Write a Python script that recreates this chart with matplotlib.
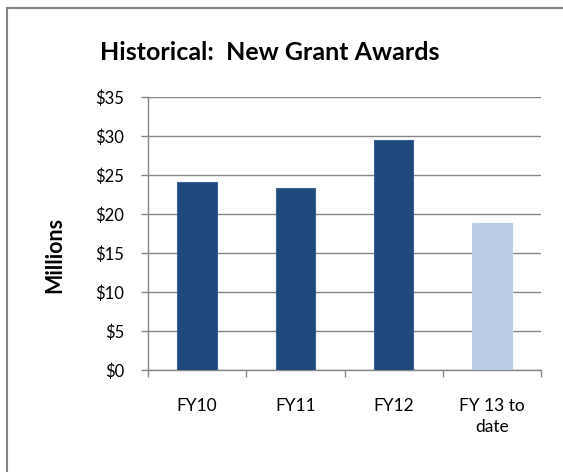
import matplotlib
matplotlib.use("Agg")
import matplotlib.pyplot as plt
from matplotlib.patches import Rectangle
from matplotlib.ticker import FixedLocator

categories = ["FY10", "FY11", "FY12", "FY 13 to\ndate"]
values = [24.1, 23.3, 29.45, 18.85]
bar_colors = ["#1F497D", "#1F497D", "#1F497D", "#B9CDE5"]
edge_colors = ["#3A6296", "#3A6296", "#3A6296", "#B9CDE5"]
yticks = [0, 5, 10, 15, 20, 25, 30, 35]
ytick_labels = ["$0", "$5", "$10", "$15", "$20", "$25", "$30", "$35"]

plt.rcParams['font.family'] = ['Lato', 'DejaVu Sans']

W, H = 563, 472
fig = plt.figure(figsize=(W / 100, H / 100), dpi=100)

# outer chart frame (extends past right/bottom edges)
fig.patches.append(Rectangle((7.5 / W, -0.1), 1.2, (H - 7.5) / H + 0.1,
                             transform=fig.transFigure, fill=False,
                             edgecolor="#868686", linewidth=1.5))

ax = fig.add_axes([148 / W, 1 - 370 / H, (541 - 148) / W, (370 - 97) / H])
x = list(range(len(categories)))
ax.bar(x, values, width=0.4, color=bar_colors, edgecolor=edge_colors,
       linewidth=0.8, zorder=3)
ax.set_xlim(-0.5, len(categories) - 0.5)
ax.set_ylim(0, 35)
ax.set_yticks(yticks)
ax.set_yticklabels(ytick_labels, fontsize=12)
ax.set_xticks(x)
ax.set_xticklabels(categories, fontsize=12.5, linespacing=1.4)
ax.xaxis.set_minor_locator(FixedLocator([i - 0.5 for i in range(len(categories) + 1)]))
ax.tick_params(axis='x', which='major', length=0, pad=20)
ax.tick_params(axis='x', which='minor', length=5, color="#868686", width=1)
ax.tick_params(axis='y', length=5, color="#868686", width=1, pad=12)
ax.grid(axis='y', color="#868686", linewidth=1, zorder=0)
for s in ["top", "right"]:
    ax.spines[s].set_visible(False)
for s in ["left", "bottom"]:
    ax.spines[s].set_color("#868686")
    ax.spines[s].set_linewidth(1)
ax.set_axisbelow(True)

fig.text(55 / W, 1 - 255 / H, "Millions", fontsize=15.5, fontweight="bold",
         rotation=90, ha="center", va="center")
fig.text(270 / W, 1 - 53 / H, "Historical:  New Grant Awards",
         fontsize=18, fontweight="bold", ha="center", va="center")

fig.savefig("out.png", dpi=100)
